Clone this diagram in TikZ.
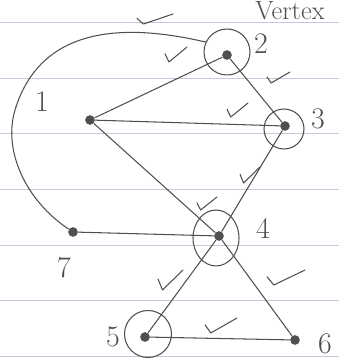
\documentclass[tikz,border=0pt]{standalone}
\usetikzlibrary{shapes.geometric}

\begin{document}
\begin{tikzpicture}[x=0.02cm,y=-0.02cm]

% Colori
\definecolor{inkGray}{HTML}{4F4F4F}
\definecolor{paperLine}{HTML}{C3CBDA}

\tikzset{
  vtx/.style={circle, fill=inkGray, inner sep=0pt, minimum size=5.5pt},
  ring/.style={circle, draw=inkGray, line width=0.6pt, inner sep=0pt},
  edge/.style={draw=inkGray, line width=0.6pt},
  lbl/.style={font=\fontsize{17}{19}\selectfont, text=inkGray},
  tickmark/.style={draw=inkGray, line width=0.6pt, line cap=round, line join=round}
}

% Spunta: x sinistra, y alto, larghezza, altezza
\newcommand{\spunta}[4]{%
  \draw[tickmark] (#1,#2+0.45*#4) -- ++(0.18*#3,0.55*#4) -- ++(0.82*#3,-#4);}

\useasboundingbox (0,0) rectangle (339,361);
\clip (0,0) rectangle (339,361);

% Righe del foglio
\foreach \y in {22,78,133,189,245,300,356}
  \draw[paperLine, line width=0.5pt] (0,\y) -- (339,\y);

% Titolo
\node[lbl, font=\fontsize{15}{17}\selectfont, inner sep=0pt, anchor=base] (title) at (290,20) {Vertex};

% Vertici
\node[vtx] (v1) at (90,120) {};
\node[vtx] (v2) at (227,55) {};
\node[vtx] (v3) at (285,126) {};
\node[vtx] (v4) at (219,236) {};
\node[vtx] (v5) at (145,337) {};
\node[vtx] (v6) at (295,340) {};
\node[vtx] (v7) at (73,232) {};

% Cerchi intorno ai vertici
\node[ring, minimum size=0.92cm] (r2) at (227,52) {};
\node[ring, minimum size=0.80cm] (r3) at (284,129) {};
\node[ring, ellipse, minimum width=0.92cm, minimum height=1.12cm] (r4) at (216,238) {};
\node[ring, minimum size=0.94cm] (r5) at (148,334) {};

% Etichette
\node[lbl] (l1) at (42,102) {1};
\node[lbl] (l2) at (261,44) {2};
\node[lbl] (l3) at (318,119) {3};
\node[lbl] (l4) at (263,229) {4};
\node[lbl] (l5) at (113,337) {5};
\node[lbl] (l6) at (325,344) {6};
\node[lbl] (l7) at (64,268) {7};

% Spigoli
\draw[edge] (v1) -- (v2);
\draw[edge] (v1) -- (v3);
\draw[edge] (v1) -- (v4);
\draw[edge] (v2) -- (v3);
\draw[edge] (v3) -- (v4);
\draw[edge] (v4) -- (v7);
\draw[edge] (v4) -- (v5);
\draw[edge] (v4) -- (v6);
\draw[edge] (v5) -- (v6);
\draw[edge] (r2.155) .. controls (120,22) and (40,28) .. (15,110)
  .. controls (3,150) and (25,200) .. (v7);

% Spunte
\spunta{137}{14}{36}{10}
\spunta{165}{47}{22}{15}
\spunta{267}{72}{23}{11}
\spunta{227}{103}{21}{14}
\spunta{240}{167}{20}{16}
\spunta{197}{197}{20}{13}
\spunta{158}{270}{25}{20}
\spunta{267}{270}{38}{15}
\spunta{205}{318}{32}{15}

\end{tikzpicture}
\end{document}
